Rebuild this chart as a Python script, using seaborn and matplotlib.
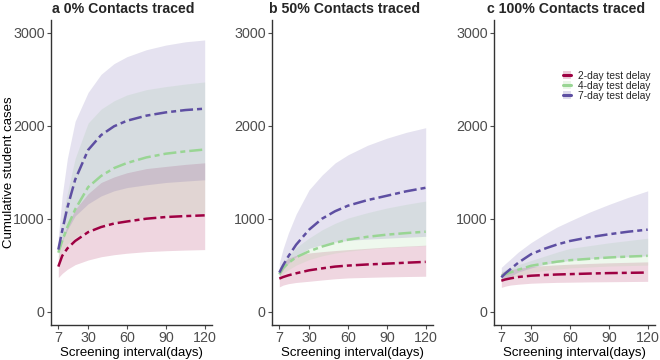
import pandas as pd
import seaborn as sns
import matplotlib.pyplot as plt
from matplotlib.patches import Patch
from matplotlib.lines import Line2D

# Screening interval (days) at which values were read
days = [7, 10, 14, 20, 30, 40, 50, 60, 75, 90, 105, 120]

delays = ['2-day test delay', '4-day test delay', '7-day test delay']
panel_titles = ['a 0% Contacts traced', 'b 50% Contacts traced', 'c 100% Contacts traced']

# a: 0% contacts traced
a_2day = [484, 600, 680, 760, 855, 910, 948, 970, 1000, 1018, 1028, 1036]
a_2day_lo = [366, 410, 455, 505, 555, 590, 612, 628, 645, 655, 662, 667]
a_2day_hi = [600, 780, 930, 1100, 1270, 1390, 1450, 1495, 1540, 1563, 1585, 1602]
a_4day = [634, 760, 910, 1100, 1340, 1460, 1545, 1600, 1660, 1700, 1725, 1745]
a_4day_lo = [560, 650, 730, 800, 880, 930, 965, 990, 1020, 1040, 1052, 1060]
a_4day_hi = [720, 1000, 1280, 1650, 2030, 2180, 2270, 2333, 2390, 2423, 2450, 2473]
a_7day = [667, 870, 1120, 1420, 1740, 1900, 1995, 2055, 2110, 2145, 2170, 2185]
a_7day_lo = [620, 760, 880, 1030, 1160, 1245, 1300, 1335, 1365, 1390, 1405, 1419]
a_7day_hi = [800, 1250, 1650, 2050, 2360, 2555, 2670, 2745, 2820, 2870, 2905, 2925]

# b: 50% contacts traced
b_2day = [355, 372, 390, 412, 444, 465, 484, 495, 507, 516, 526, 535]
b_2day_lo = [265, 285, 300, 313, 326, 340, 353, 362, 368, 373, 377, 380]
b_2day_hi = [470, 530, 575, 605, 631, 645, 657, 667, 681, 695, 705, 715]
b_4day = [400, 470, 523, 585, 649, 700, 740, 774, 805, 828, 845, 860]
b_4day_lo = [370, 410, 450, 500, 560, 600, 630, 650, 672, 690, 700, 710]
b_4day_hi = [470, 530, 595, 690, 792, 880, 950, 1007, 1065, 1115, 1155, 1190]
b_7day = [420, 500, 595, 720, 882, 1000, 1080, 1140, 1200, 1247, 1295, 1333]
b_7day_lo = [380, 450, 520, 590, 680, 720, 748, 765, 780, 790, 800, 810]
b_7day_hi = [523, 680, 846, 1050, 1312, 1470, 1600, 1688, 1790, 1867, 1930, 1980]

# c: 100% contacts traced
c_2day = [332, 345, 357, 372, 386, 393, 399, 403, 409, 414, 417, 420]
c_2day_lo = [260, 273, 285, 294, 305, 310, 314, 316, 319, 321, 323, 325]
c_2day_hi = [420, 435, 450, 467, 485, 495, 503, 510, 518, 525, 530, 535]
c_4day = [386, 400, 421, 450, 493, 517, 537, 553, 568, 582, 592, 600]
c_4day_lo = [320, 340, 360, 385, 420, 440, 457, 470, 480, 490, 495, 500]
c_4day_hi = [430, 450, 470, 505, 550, 595, 640, 680, 710, 740, 765, 790]
c_7day = [368, 410, 457, 525, 618, 675, 722, 760, 800, 832, 860, 882]
c_7day_lo = [330, 355, 380, 425, 470, 505, 530, 550, 567, 580, 590, 600]
c_7day_hi = [475, 515, 564, 640, 743, 830, 910, 975, 1070, 1153, 1230, 1300]

panels = [
    [(a_2day, a_2day_lo, a_2day_hi), (a_4day, a_4day_lo, a_4day_hi), (a_7day, a_7day_lo, a_7day_hi)],
    [(b_2day, b_2day_lo, b_2day_hi), (b_4day, b_4day_lo, b_4day_hi), (b_7day, b_7day_lo, b_7day_hi)],
    [(c_2day, c_2day_lo, c_2day_hi), (c_4day, c_4day_lo, c_4day_hi), (c_7day, c_7day_lo, c_7day_hi)],
]

colors = ['#9E0142', '#99D594', '#5E4FA2']
dash = (5.2, 1.6, 2.0, 1.6)

sns.set_style("white")
plt.rcParams['font.family'] = ['Liberation Sans', 'DejaVu Sans']

fig = plt.figure(figsize=(6.6, 3.6), dpi=100)
W, H = 660, 360
lefts = [51, 272, 494]
top, bottom = 20, 325
width = 161

axes = []
for i, left in enumerate(lefts):
    ax = fig.add_axes([left / W, (H - bottom) / H, width / W, (bottom - top) / H])
    axes.append(ax)
    rows = []
    for delay, (mean, lo, hi), col in zip(delays, panels[i], colors):
        ax.fill_between(days, lo, hi, color=col, alpha=0.16, lw=0)
        for d, m in zip(days, mean):
            rows.append({'day': d, 'cases': m, 'delay': delay})
    df = pd.DataFrame(rows)
    sns.lineplot(data=df, x='day', y='cases', hue='delay', style='delay',
                 palette=colors, dashes=[dash] * 3, lw=1.8, legend=False, ax=ax)
    for line in ax.lines:
        line.set_dash_capstyle('butt')

    ax.set_xlim(1.35, 125.65)
    ax.set_ylim(-145, 3140)
    ax.set_xticks([7, 30, 60, 90, 120])
    ax.set_yticks([0, 1000, 2000, 3000])
    ax.set_xlabel('Screening interval(days)', fontsize=9.5, color='black', labelpad=1)
    if i == 0:
        ax.set_ylabel('Cumulative student cases', fontsize=9.5, color='black', va='center')
        ax.yaxis.set_label_coords(-0.262, 0.5)
    else:
        ax.set_ylabel('')
    ax.tick_params(axis='both', labelsize=10.3, colors='#4D4D4D', length=3, width=0.8,
                   direction='out', pad=1.5, bottom=True, left=True)
    for s in ['top', 'right']:
        ax.spines[s].set_visible(False)
    for s in ['left', 'bottom']:
        ax.spines[s].set_color('#333333')
        ax.spines[s].set_linewidth(1.0)
    ax.set_title(panel_titles[i], fontsize=10.2, fontweight='bold', x=0.45, ha='center', pad=5)
    ax.grid(False)

handles = [(Patch(facecolor=c, alpha=0.2, lw=0), Line2D([], [], color=c, lw=2.2)) for c in colors]
axes[2].legend(handles, delays, loc='center', bbox_to_anchor=(0.70, 0.785), frameon=False,
               fontsize=7.4, handlelength=0.8, handleheight=0.7, handletextpad=0.6,
               labelspacing=0.0, borderpad=0)

plt.savefig('out.png', dpi=100)
plt.close()
